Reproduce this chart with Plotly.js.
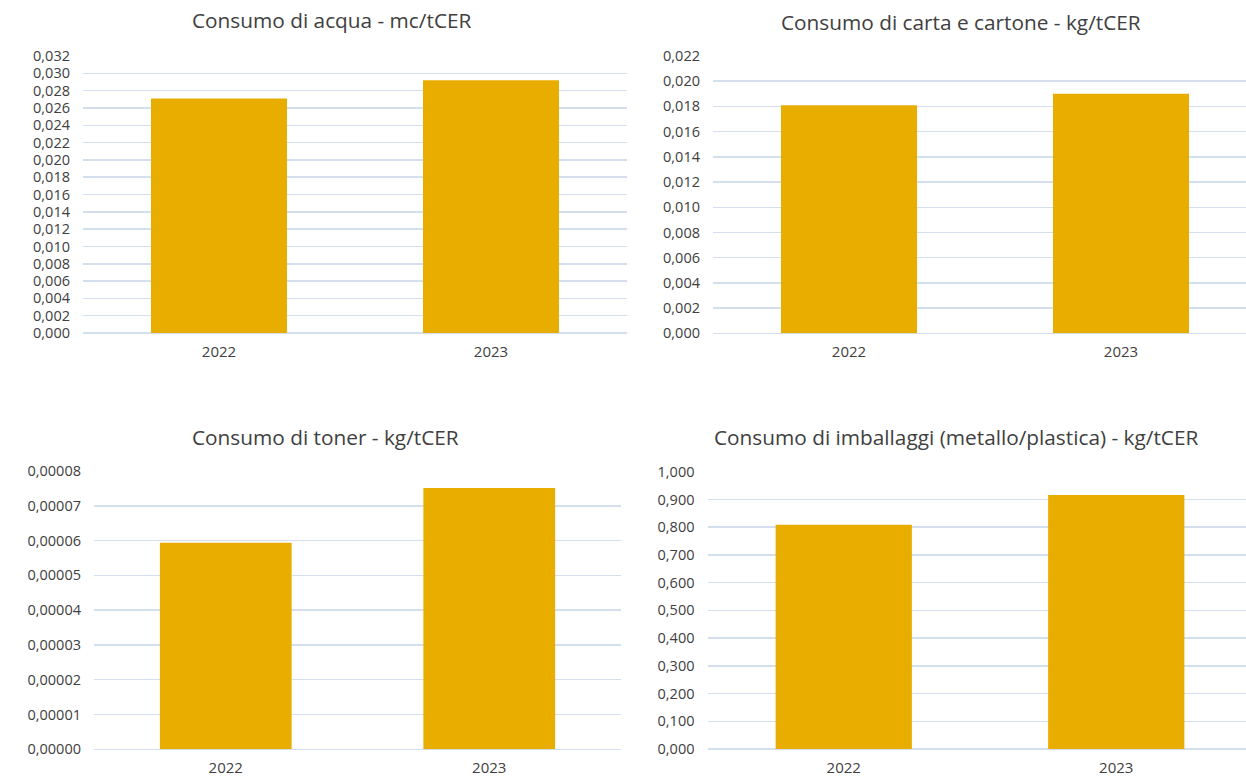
<!DOCTYPE html>
<html>
<head>
<meta charset="utf-8">
<script src="https://cdn.plot.ly/plotly-3.0.1.min.js"></script>
<style>html,body{margin:0;padding:0;background:#fff;}#chart{width:1246px;height:776px;}</style>
</head>
<body>
<div id="chart"></div>
<script>
// Data
const years = ["2022", "2023"];
const acqua = [0.0271, 0.0292];           // mc/tCER
const carta = [0.0181, 0.0190];           // kg/tCER
const toner = [0.0000594, 0.0000751];     // kg/tCER
const imballaggi = [0.809, 0.916];        // kg/tCER

const titles = [
  "Consumo di acqua - mc/tCER",
  "Consumo di carta e cartone - kg/tCER",
  "Consumo di toner - kg/tCER",
  "Consumo di imballaggi (metallo/plastica) - kg/tCER"
];

const W = 1246, H = 776;
const barColor = "#E9AD00";
const gridColor = "#D3DEEE";
const textColor = "#404040";
const fontFam = "'Open Sans', sans-serif";

function px(x) { return x / W; }
function py(y) { return 1 - y / H; }

const series = [acqua, carta, toner, imballaggi];
const traces = series.map((vals, i) => ({
  type: "bar",
  x: years,
  y: vals,
  xaxis: i === 0 ? "x" : "x" + (i + 1),
  yaxis: i === 0 ? "y" : "y" + (i + 1),
  marker: { color: barColor },
  hoverinfo: "skip",
  showlegend: false
}));

function xax(d0, d1, r1, anchor) {
  return {
    domain: [px(d0), px(d1)], anchor: anchor, type: "category",
    range: [-0.5, r1], showgrid: false, zeroline: false, showline: false,
    ticks: "", ticklabelstandoff: 8,
    tickfont: { size: 15, color: textColor, family: fontFam },
    fixedrange: true
  };
}
function yax(top, bottom, max, dtick, fmt, anchor) {
  return {
    domain: [py(bottom), py(top)], anchor: anchor,
    range: [0, max], dtick: dtick, tick0: 0, tickformat: fmt,
    showgrid: true, gridcolor: gridColor, gridwidth: 1.5,
    zeroline: true, zerolinecolor: gridColor, zerolinewidth: 1.5,
    showline: false, ticks: "", ticklabelstandoff: 12,
    tickfont: { size: 14.5, color: textColor, family: fontFam },
    fixedrange: true
  };
}

const titleFont = { size: 20.8, color: textColor, family: fontFam };
const layout = {
  width: W, height: H,
  margin: { l: 0, r: 0, t: 0, b: 0 },
  paper_bgcolor: "#fff", plot_bgcolor: "#fff",
  separators: ",.",
  bargap: 0.5,
  font: { family: fontFam, color: textColor },
  xaxis: xax(83, 627, 1.5, "y"),
  yaxis: yax(56, 333, 0.032, 0.002, ".3f", "x"),
  xaxis2: xax(713, 1246, -0.5 + 533 / 272, "y2"),
  yaxis2: yax(56, 333.3, 0.022, 0.002, ".3f", "x2"),
  xaxis3: xax(94, 621, 1.5, "y3"),
  yaxis3: yax(471, 749.3, 0.00008, 0.00001, ".5f", "x3"),
  xaxis4: xax(707.5, 1246, -0.5 + 538.5 / 272.5, "y4"),
  yaxis4: yax(471.7, 749, 1.0, 0.1, ".3f", "x4"),
  annotations: [
    { text: titles[0], x: px(332), y: py(20) },
    { text: titles[1], x: px(961), y: py(22) },
    { text: titles[2], x: px(325), y: py(437) },
    { text: titles[3], x: px(956), y: py(437) }
  ].map(a => Object.assign(a, {
    xref: "paper", yref: "paper", xanchor: "center", yanchor: "middle",
    showarrow: false, font: titleFont
  }))
};

Plotly.newPlot("chart", traces, layout, { displayModeBar: false, staticPlot: true });
</script>
</body>
</html>
